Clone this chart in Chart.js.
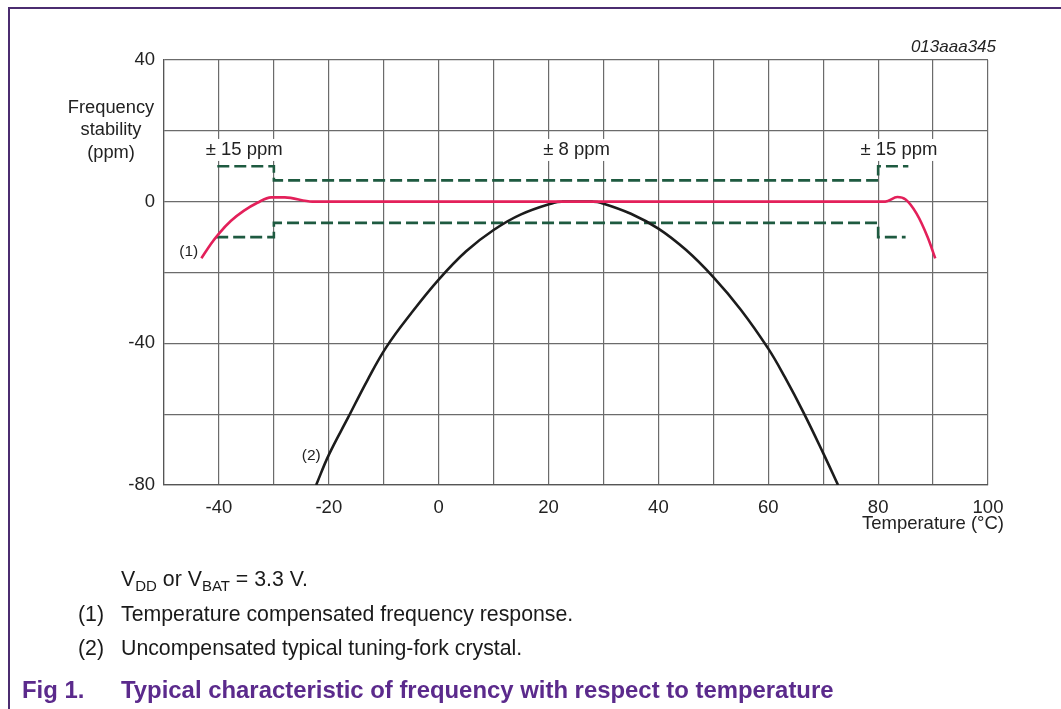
<!DOCTYPE html>
<html>
<head>
<meta charset="utf-8">
<script src="https://cdn.jsdelivr.net/npm/chart.js@4.4.1/dist/chart.umd.min.js"></script>
<style>
html,body{margin:0;padding:0;background:#fff;}
body{width:1061px;height:709px;position:relative;overflow:hidden;font-family:"Liberation Sans",Arial,sans-serif;}
#wrap{position:absolute;left:0;top:0;width:1061px;height:709px;}
.frameTop{position:absolute;left:8px;top:7px;width:1053px;height:2px;background:#4b2c70;}
.frameLeft{position:absolute;left:8px;top:7px;width:2px;height:702px;background:#4b2c70;}
.note{position:absolute;font-size:21.3px;color:#1a1a1a;white-space:nowrap;line-height:1;}
.note sub{font-size:15px;vertical-align:-5px;line-height:0;}
.fig{position:absolute;font-size:23.9px;font-weight:bold;color:#5b2a8c;white-space:nowrap;line-height:1;}
</style>
</head>
<body>
<div id="wrap"><canvas id="c" width="1061" height="709"></canvas></div>
<div class="frameTop"></div>
<div class="frameLeft"></div>
<div class="note" style="left:121px;top:569px;">V<sub>DD</sub> or V<sub>BAT</sub> = 3.3 V.</div>
<div class="note" style="left:78px;top:604px;">(1)</div>
<div class="note" style="left:121px;top:604px;">Temperature compensated frequency response.</div>
<div class="note" style="left:78px;top:638px;">(2)</div>
<div class="note" style="left:121px;top:638px;">Uncompensated typical tuning-fork crystal.</div>
<div class="fig" style="left:22px;top:678px;">Fig 1.</div>
<div class="fig" style="left:121px;top:678px;">Typical characteristic of frequency with respect to temperature</div>
<script>
// ---- data ----
const xTicks = [-40, -20, 0, 20, 40, 60, 80, 100];
const yTicks = [40, 0, -40, -80];

const compensatedT   = [-43.2, -41.5, -40, -37.8, -35.5, -33, -30.5, -28, -23, 81.3, 83.5, 85, 87, 89, 90.4];
const compensatedPpm = [-16, -12, -9, -5.4, -2.6, -0.3, 1.2, 1.2, 0, 0, 1.3, 0.6, -3.4, -10, -16];

const crystalT   = [-22.3, -20, -16.5, -13, -9.5, -5, 0, 5, 10, 15, 21, 22.5, 28, 29.5, 35, 40, 45, 50, 55, 60, 63, 66.4, 70, 72.7];
const crystalPpm = [-80, -71.5, -61, -50.5, -41, -31.5, -22, -14, -8, -3.6, -0.3, 0, 0, -0.3, -3.4, -7.6, -13.6, -21.3, -30.5, -41.5, -49.5, -59.5, -71, -80];

const upperLimitT   = [-40.3, -30, -30, 80, 80, 85.5];
const upperLimitPpm = [10, 10, 6, 6, 10, 10];
const lowerLimitT   = [-40.5, -30, -30, 80, 80, 85];
const lowerLimitPpm = [-10, -10, -6, -6, -10, -10];

const annotations = [
  {t: -35.4, p: 14.6, text: '± 15 ppm', bg: true},
  {t: 25.1,  p: 14.6, text: '± 8 ppm',  bg: true},
  {t: 83.8,  p: 14.6, text: '± 15 ppm', bg: true},
  {t: -45.5, p: -14.1, text: '(1)', bg: false},
  {t: -23.2, p: -71.8, text: '(2)', bg: false}
];

const pts = (xs, ys) => xs.map((x, i) => ({x: x, y: ys[i]}));

const FONT = '"Liberation Sans", Arial, sans-serif';

const textPlugin = {
  id: 'texts',
  afterDatasetsDraw(chart) {
    const ctx = chart.ctx;
    const xs = chart.scales.x, ys = chart.scales.y;
    ctx.save();
    ctx.textAlign = 'center';
    ctx.textBaseline = 'middle';
    annotations.forEach(a => {
      const px = xs.getPixelForValue(a.t), py = ys.getPixelForValue(a.p);
      ctx.font = (a.bg ? '18.5px ' : '15.5px ') + FONT;
      const w = ctx.measureText(a.text).width;
      if (a.bg) {
        ctx.fillStyle = '#fff';
        ctx.fillRect(px - w / 2 - 3, py - 11, w + 6, 22);
      }
      ctx.fillStyle = '#222';
      ctx.fillText(a.text, px, py);
    });
    // y-axis title
    ctx.font = '18.3px ' + FONT;
    ctx.fillStyle = '#222';
    ctx.fillText('Frequency', 111, 108);
    ctx.fillText('stability', 111, 130);
    ctx.fillText('(ppm)', 111, 153);
    // x-axis title
    ctx.textAlign = 'right';
    ctx.font = '18.5px ' + FONT;
    ctx.fillText('Temperature (°C)', 1004, 524);
    // code
    ctx.font = 'italic 17px ' + FONT;
    ctx.fillText('013aaa345', 996, 47);
    ctx.restore();
  }
};

new Chart(document.getElementById('c'), {
  type: 'scatter',
  data: {
    datasets: [
      {data: pts(compensatedT, compensatedPpm), showLine: true, borderColor: '#e3205a', borderWidth: 2.6,
       pointRadius: 0, cubicInterpolationMode: 'monotone', fill: false},
      {data: pts(crystalT, crystalPpm), showLine: true, borderColor: '#1c1c1c', borderWidth: 2.6,
       pointRadius: 0, tension: 0.4, fill: false},
      {data: pts(upperLimitT, upperLimitPpm), showLine: true, borderColor: '#1e5a40', borderWidth: 2.6,
       borderDash: [12, 5], pointRadius: 0, tension: 0, fill: false},
      {data: pts(lowerLimitT, lowerLimitPpm), showLine: true, borderColor: '#1e5a40', borderWidth: 2.6,
       borderDash: [12, 5], pointRadius: 0, tension: 0, fill: false}
    ]
  },
  options: {
    responsive: false,
    animation: false,
    events: [],
    layout: {padding: {left: 0, top: 60, right: 73, bottom: 184}},
    plugins: {legend: {display: false}, tooltip: {enabled: false}},
    scales: {
      x: {
        type: 'linear', min: -50, max: 100,
        afterFit: s => { s.height = 40; },
        grid: {color: '#6b6b6b', lineWidth: 1.2, drawTicks: false},
        border: {color: '#555', width: 1.2},
        ticks: {stepSize: 10, padding: 12, color: '#222', font: {size: 18.5, family: FONT},
          callback: v => (xTicks.includes(v) ? String(v) : '')}
      },
      y: {
        type: 'linear', min: -80, max: 40,
        afterFit: s => { s.width = 164; },
        grid: {color: '#6b6b6b', lineWidth: 1.2, drawTicks: false},
        border: {color: '#555', width: 1.2},
        ticks: {stepSize: 20, padding: 9, color: '#222', font: {size: 18.5, family: FONT},
          callback: v => (yTicks.includes(v) ? String(v) : '')}
      }
    }
  },
  plugins: [textPlugin]
});
</script>
</body>
</html>
